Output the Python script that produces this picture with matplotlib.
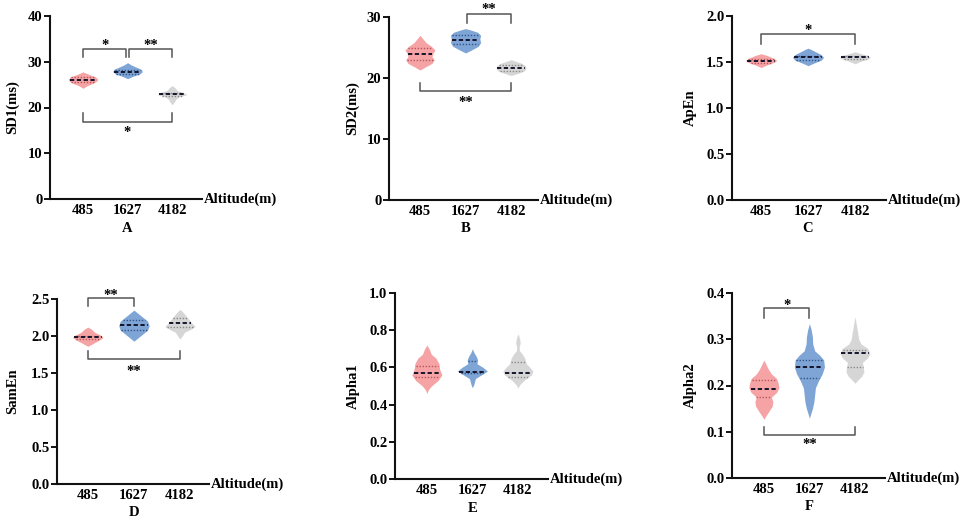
import matplotlib.pyplot as plt
import numpy as np

plt.rcParams['font.family'] = ['Liberation Serif', 'DejaVu Serif']
plt.rcParams['font.weight'] = 'bold'
plt.rcParams['font.size'] = 10.5

altitudes = ['485', '1627', '4182']
fill_colors = ['#F5A3A5', '#7EA5D5', '#D6D6D6']
quart_colors = ['#B8585E', '#34568A', '#8A8A8A']

# ---- A: SD1 (profile heights / relative widths)
sd1_y = [[24.2, 24.8, 25.3, 25.8, 26.2, 26.7, 27.1, 27.5, 27.8],
         [26.3, 26.8, 27.3, 27.8, 28.3, 28.8, 29.3, 29.8],
         [20.6, 21.2, 21.8, 22.4, 22.8, 23.2, 23.7, 24.3, 24.8]]
sd1_w = [[0, 0.3, 0.7, 0.95, 1.0, 0.85, 0.5, 0.2, 0],
         [0, 0.35, 0.8, 1.0, 0.95, 0.6, 0.25, 0],
         [0, 0.15, 0.25, 0.5, 1.0, 0.8, 0.35, 0.2, 0]]
sd1_med = [26.1, 27.8, 22.9]
sd1_q1 = [25.6, 27.4, 22.6]
sd1_q3 = [26.6, 28.3, 23.2]

# ---- B: SD2
sd2_y = [[21.3, 21.8, 22.4, 23.0, 23.5, 24.0, 24.6, 25.2, 25.8, 26.4, 27.0],
         [24.1, 24.6, 25.2, 25.8, 26.4, 27.0, 27.5, 27.9, 28.1],
         [20.4, 20.8, 21.2, 21.6, 22.0, 22.4, 22.7, 23.0]]
sd2_w = [[0, 0.35, 0.8, 0.95, 0.8, 0.85, 1.0, 0.75, 0.4, 0.2, 0],
         [0, 0.4, 0.85, 1.0, 0.95, 1.0, 0.8, 0.3, 0],
         [0, 0.5, 0.9, 1.0, 0.95, 0.7, 0.35, 0]]
sd2_med = [23.9, 26.2, 21.6]
sd2_q1 = [22.95, 25.5, 21.1]
sd2_q3 = [25.0, 27.0, 22.1]

# ---- C: ApEn
apen_y = [[1.44, 1.47, 1.50, 1.52, 1.54, 1.57, 1.59],
          [1.46, 1.49, 1.52, 1.55, 1.58, 1.61, 1.64, 1.65],
          [1.48, 1.51, 1.53, 1.55, 1.57, 1.59, 1.61]]
apen_w = [[0, 0.4, 0.9, 1.0, 0.8, 0.4, 0],
          [0, 0.4, 0.85, 1.0, 0.85, 0.5, 0.15, 0],
          [0, 0.4, 0.8, 1.0, 0.8, 0.4, 0]]
apen_med = [1.514, 1.55, 1.55]
apen_q1 = [1.49, 1.52, 1.53]
apen_q3 = [1.53, 1.57, 1.56]

# ---- D: SamEn
samen_y = [[1.86, 1.90, 1.95, 1.98, 2.01, 2.05, 2.09, 2.12],
           [1.93, 1.98, 2.03, 2.08, 2.14, 2.20, 2.25, 2.30, 2.35],
           [1.96, 2.00, 2.05, 2.09, 2.13, 2.17, 2.22, 2.27, 2.32, 2.36]]
samen_w = [[0, 0.35, 0.8, 1.0, 0.85, 0.45, 0.25, 0],
           [0, 0.3, 0.6, 0.9, 1.0, 0.9, 0.6, 0.3, 0],
           [0, 0.15, 0.3, 0.7, 1.0, 0.8, 0.6, 0.4, 0.2, 0]]
samen_med = [1.98, 2.15, 2.18]
samen_q1 = [1.96, 2.08, 2.12]
samen_q3 = [2.00, 2.22, 2.24]

# ---- E: Alpha1
alpha1_y = [[0.46, 0.48, 0.50, 0.53, 0.56, 0.59, 0.62, 0.65, 0.67, 0.70, 0.72],
            [0.49, 0.51, 0.54, 0.56, 0.58, 0.60, 0.62, 0.64, 0.66, 0.68, 0.70],
            [0.49, 0.51, 0.53, 0.56, 0.58, 0.60, 0.62, 0.65, 0.67, 0.69, 0.71,
             0.73, 0.75, 0.77, 0.78]]
alpha1_w = [[0, 0.1, 0.3, 0.75, 1.0, 0.85, 0.8, 0.6, 0.3, 0.15, 0],
            [0, 0.1, 0.2, 0.6, 1.0, 0.7, 0.3, 0.35, 0.25, 0.1, 0],
            [0, 0.15, 0.4, 0.9, 1.0, 0.8, 0.55, 0.45, 0.3, 0.1, 0.08,
             0.15, 0.12, 0.05, 0]]
alpha1_med = [0.568, 0.577, 0.571]
alpha1_q1 = [0.547, 0.57, 0.55]
alpha1_q3 = [0.607, 0.635, 0.63]

# ---- F: Alpha2
alpha2_y = [[0.127, 0.135, 0.145, 0.155, 0.165, 0.175, 0.185, 0.195, 0.205,
             0.215, 0.225, 0.235, 0.245, 0.255],
            [0.129, 0.14, 0.15, 0.165, 0.18, 0.195, 0.21, 0.225, 0.24, 0.255,
             0.265, 0.275, 0.29, 0.305, 0.32, 0.334],
            [0.205, 0.212, 0.22, 0.23, 0.24, 0.25, 0.26, 0.27, 0.28, 0.29,
             0.30, 0.315, 0.33, 0.349]]
alpha2_w = [[0, 0.15, 0.35, 0.55, 0.6, 0.5, 0.85, 1.0, 0.95, 0.85, 0.5, 0.3,
             0.15, 0],
            [0, 0.1, 0.2, 0.3, 0.35, 0.4, 0.6, 0.85, 1.0, 0.95, 0.7, 0.35,
             0.22, 0.2, 0.12, 0],
            [0, 0.2, 0.45, 0.6, 0.55, 0.5, 0.85, 1.0, 0.85, 0.4, 0.25, 0.18,
             0.1, 0]]
alpha2_med = [0.192, 0.241, 0.271]
alpha2_q1 = [0.176, 0.216, 0.24]
alpha2_q3 = [0.212, 0.255, 0.277]

# significance brackets: (group a, group b, line y, tip y, label, label y)
sd1_sig = [(0, 1, 32.8, 31.0, '*', 34.3), (1, 2, 32.8, 31.0, '**', 34.3),
           (0, 2, 16.9, 18.9, '*', 15.1)]
sd2_sig = [(1, 2, 30.5, 29.0, '**', 31.7), (0, 2, 17.9, 19.2, '**', 16.5)]
apen_sig = [(0, 2, 1.80, 1.70, '*', 1.88)]
samen_sig = [(0, 1, 2.51, 2.40, '**', 2.59), (0, 2, 1.69, 1.80, '**', 1.56)]
alpha1_sig = []
alpha2_sig = [(0, 1, 0.367, 0.345, '*', 0.379), (0, 2, 0.093, 0.111, '**', 0.078)]

panels = [
    ('SD1(ms)', 'A', sd1_y, sd1_w, sd1_med, sd1_q1, sd1_q3, sd1_sig, [0, 10, 20, 30, 40], '%d'),
    ('SD2(ms)', 'B', sd2_y, sd2_w, sd2_med, sd2_q1, sd2_q3, sd2_sig, [0, 10, 20, 30], '%d'),
    ('ApEn', 'C', apen_y, apen_w, apen_med, apen_q1, apen_q3, apen_sig, [0, 0.5, 1.0, 1.5, 2.0], '%.1f'),
    ('SamEn', 'D', samen_y, samen_w, samen_med, samen_q1, samen_q3, samen_sig, [0, 0.5, 1.0, 1.5, 2.0, 2.5], '%.1f'),
    ('Alpha1', 'E', alpha1_y, alpha1_w, alpha1_med, alpha1_q1, alpha1_q3, alpha1_sig, [0, 0.2, 0.4, 0.6, 0.8, 1.0], '%.1f'),
    ('Alpha2', 'F', alpha2_y, alpha2_w, alpha2_med, alpha2_q1, alpha2_q3, alpha2_sig, [0, 0.1, 0.2, 0.3, 0.4], '%.1f'),
]

# layout in pixels: left, top, right, bottom of each axes; x limits; ylabel distance
W, H = 969, 522
rects = [(50, 16, 202, 199), (389, 17, 538, 200), (732, 16, 886, 200),
         (57, 299, 209, 484), (395, 293, 548, 479), (732, 293, 885, 478)]
xlims = [(-0.74, 2.67), (-0.68, 2.59), (-0.62, 2.66),
         (-0.67, 2.63), (-0.70, 2.66), (-0.70, 2.66)]
ylab_dist = [38, 37, 42, 44, 42, 42]

PT = 0.72  # points per pixel at dpi 100
half_w = 0.33

fig = plt.figure(figsize=(W / 100, H / 100), dpi=100)

for k, (ylab, letter, ys, ws, med, q1, q3, sig, yticks, fmt) in enumerate(panels):
    l, t, r, b = rects[k]
    ax = fig.add_axes([l / W, 1 - b / H, (r - l) / W, (b - t) / H])
    for i in range(3):
        y = np.array(ys[i])
        w = np.array(ws[i]) * half_w
        ax.fill_betweenx(y, i - w, i + w, color=fill_colors[i], lw=0, zorder=2)
        for v, ls, c, lw in [(q1[i], (0, (1, 1.2)), quart_colors[i], 1.0),
                             (q3[i], (0, (1, 1.2)), quart_colors[i], 1.0),
                             (med[i], (0, (2.2, 1.3)), '#15152a', 1.4)]:
            hw = np.interp(v, y, w) * 0.92
            ax.plot([i - hw, i + hw], [v, v], ls=ls, color=c, lw=lw, zorder=3)

    for a, bb, yl, yt, txt, ty in sig:
        xa = a + (0.03 if (a == 1) else 0)
        xb = bb - (0.03 if (bb == 1 and a == 0 and any(s[0] == 1 for s in sig)) else 0)
        ax.plot([xa, xa, xb, xb], [yt, yl, yl, yt], color='#555555', lw=1.1,
                clip_on=False, zorder=3)
        ax.annotate(txt, xy=((xa + xb) / 2, ty), xytext=(0, -0.45 * 10.5),
                    textcoords='offset points', ha='center', va='baseline',
                    fontsize=10.5, annotation_clip=False)

    ax.set_xlim(*xlims[k])
    ax.set_ylim(0, yticks[-1])
    ax.set_yticks(yticks)
    ax.set_yticklabels([fmt % v for v in yticks])
    ax.set_xticks([0, 1, 2])
    ax.set_xticklabels(altitudes)
    ax.tick_params(axis='x', length=0, pad=3.5, labelsize=10.5)
    ax.tick_params(axis='y', length=4, width=1.3, pad=1.5, labelsize=10.5)
    for s in ['top', 'right']:
        ax.spines[s].set_visible(False)
    for s in ['left', 'bottom']:
        ax.spines[s].set_linewidth(1.5)
        ax.spines[s].set_color('#111111')

    ax.annotate(ylab, xy=(0, 0.5), xycoords='axes fraction',
                xytext=(-ylab_dist[k] * PT, 0), textcoords='offset points',
                rotation=90, ha='center', va='center', fontsize=10.5)
    ax.annotate('Altitude(m)', xy=(1, 0), xycoords='axes fraction',
                xytext=(2 * PT, 0), textcoords='offset points',
                ha='left', va='center', fontsize=10.5)
    ax.annotate(letter, xy=(1, 0), xycoords=ax.get_xaxis_transform(),
                xytext=(0, -29 * PT), textcoords='offset points',
                ha='center', va='center', fontsize=10.5)

fig.savefig('out.png', dpi=100)
